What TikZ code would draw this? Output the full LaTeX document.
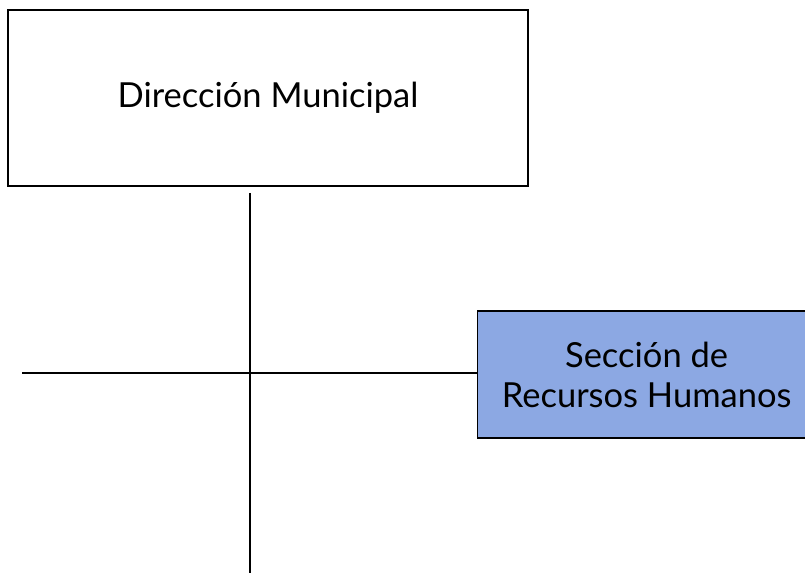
\documentclass[tikz,border=0pt]{standalone}
\usepackage{fontspec}
\setmainfont{Lato}
\usetikzlibrary{positioning}
\definecolor{seccionblue}{HTML}{8CA8E3}

\begin{document}
\begin{tikzpicture}[x=1pt,y=1pt,
    unidad/.style={draw, line width=1.2pt, align=center, inner sep=0pt,
      font=\fontsize{34.5}{40}\selectfont}]

        \useasboundingbox (0,0) rectangle (805,573);

        \node[unidad, minimum width=520pt, minimum height=176pt] (direccion) at (268,475) {Dirección Municipal};
        \node[unidad, fill=seccionblue, minimum width=338pt, minimum height=127pt, anchor=west] (seccion) at (477,198.5) {Sección de\\ Recursos Humanos};

        \coordinate (eje_top) at (250,380);
        \coordinate (eje_bot) at (250,0);
        \coordinate (rama_izq) at (22,200);

        \draw[line width=2.8pt] (eje_top) -- (eje_bot);
        \draw[line width=1.3pt] (rama_izq) -- (rama_izq -| seccion.west);
      \end{tikzpicture}
\end{document}
